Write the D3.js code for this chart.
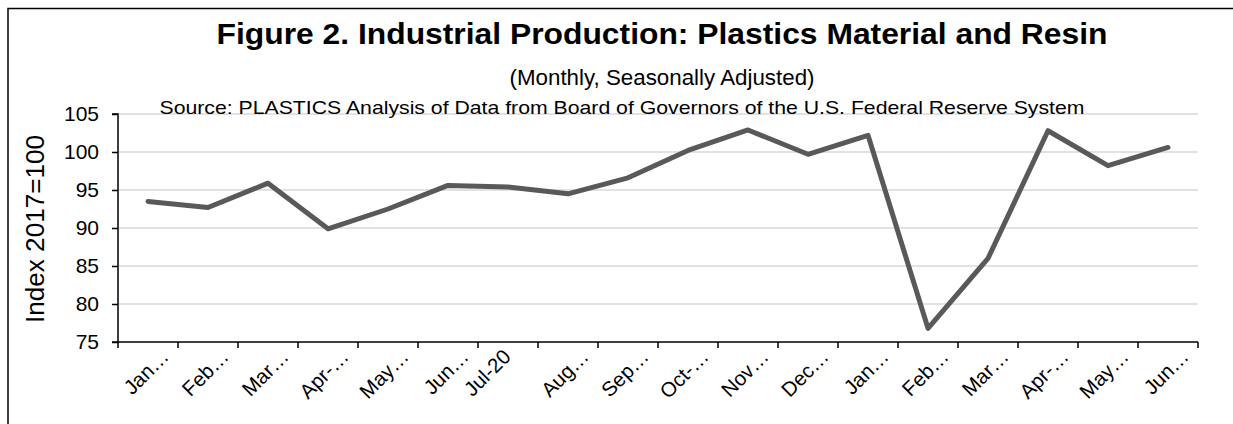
<!DOCTYPE html>
<html>
<head>
<meta charset="utf-8">
<script src="https://cdn.jsdelivr.net/npm/d3@7"></script>
<style>
  html, body { margin: 0; padding: 0; background: #fff; }
  svg { display: block; font-family: "Liberation Sans", Arial, sans-serif; }
</style>
</head>
<body>
<svg id="chart" width="1233" height="424"></svg>
<script>
const categories = ["Jan-20","Feb-20","Mar-20","Apr-20","May-20","Jun-20","Jul-20","Aug-20","Sep-20","Oct-20","Nov-20","Dec-20","Jan-21","Feb-21","Mar-21","Apr-21","May-21","Jun-21"];
const tickLabels = ["Jan…","Feb…","Mar…","Apr-…","May…","Jun…","Jul-20","Aug…","Sep…","Oct-…","Nov…","Dec…","Jan…","Feb…","Mar…","Apr-…","May…","Jun…"];
const values = [93.5, 92.7, 95.9, 89.9, 92.5, 95.6, 95.4, 94.5, 96.6, 100.2, 102.9, 99.7, 102.2, 76.8, 86.0, 102.8, 98.2, 100.6];
const yTicks = [75, 80, 85, 90, 95, 100, 105];

const svg = d3.select("#chart");
const W = 1233, H = 424;
const plot = { left: 118, right: 1198, top: 114, bottom: 342 };
const FONT = "Liberation Sans, Arial, sans-serif";

// frame
svg.append("path")
  .attr("d", `M8,${H + 5} L8,8.5 L${W + 5},8.5`)
  .attr("fill", "none").attr("stroke", "#000").attr("stroke-width", 1.5);

const x = d3.scaleBand().domain(categories).range([plot.left, plot.right]).padding(0);
const y = d3.scaleLinear().domain([75, 105]).range([plot.bottom, plot.top]);

// gridlines
svg.append("g").selectAll("line").data(yTicks.filter(d => d !== 75)).join("line")
  .attr("x1", plot.left).attr("x2", plot.right)
  .attr("y1", d => y(d)).attr("y2", d => y(d))
  .attr("stroke", "#d9d9d9").attr("stroke-width", 1.5);

// y axis
const yAxis = svg.append("g").attr("transform", `translate(${plot.left},0)`)
  .call(d3.axisLeft(y).tickValues(yTicks).tickSize(6).tickPadding(13).tickFormat(d3.format("d")));
yAxis.select(".domain").attr("stroke", "#000").attr("stroke-width", 1.5).attr("d", `M-6,${plot.top}H0V${plot.bottom}H-6`);
yAxis.selectAll(".tick line").attr("stroke", "#000").attr("stroke-width", 1.5);
yAxis.selectAll(".tick text").attr("fill", "#000").attr("font-size", 21).attr("font-family", FONT);

// x axis
const xTickPos = categories.map((c, i) => plot.left + i * x.bandwidth()).concat([plot.right]);
const xg = svg.append("g");
xg.append("line").attr("x1", plot.left).attr("x2", plot.right).attr("y1", plot.bottom).attr("y2", plot.bottom)
  .attr("stroke", "#000").attr("stroke-width", 1.5);
xg.selectAll("line.tk").data(xTickPos).join("line").attr("class", "tk")
  .attr("x1", d => d).attr("x2", d => d).attr("y1", plot.bottom).attr("y2", plot.bottom + 6)
  .attr("stroke", "#000").attr("stroke-width", 1.5);
xg.selectAll("text").data(categories).join("text")
  .attr("transform", (d, i) => {
    const off = tickLabels[i].endsWith("…") ? 22 : 4;
    return `translate(${x(d) + x.bandwidth() / 2 + off},${plot.bottom + 16}) rotate(-45)`;
  })
  .attr("text-anchor", "end")
  .attr("font-size", 20.5)
  .attr("fill", "#000")
  .text((d, i) => tickLabels[i]);

// line
const line = d3.line().x((d, i) => x(categories[i]) + x.bandwidth() / 2).y(d => y(d)).curve(d3.curveLinear);
svg.append("path").datum(values)
  .attr("d", line)
  .attr("fill", "none").attr("stroke", "#595959").attr("stroke-width", 5)
  .attr("stroke-linejoin", "round").attr("stroke-linecap", "round");

// titles
svg.append("text").attr("x", 662).attr("y", 44).attr("text-anchor", "middle")
  .attr("font-size", 29.5).attr("font-weight", "bold").attr("fill", "#000")
  .attr("textLength", 891).attr("lengthAdjust", "spacingAndGlyphs")
  .text("Figure 2. Industrial Production: Plastics Material and Resin");
svg.append("text").attr("x", 662).attr("y", 85).attr("text-anchor", "middle")
  .attr("font-size", 22.5).attr("fill", "#000")
  .attr("textLength", 305).attr("lengthAdjust", "spacingAndGlyphs")
  .text("(Monthly, Seasonally Adjusted)");
svg.append("text").attr("x", 622).attr("y", 114).attr("text-anchor", "middle")
  .attr("font-size", 18.5).attr("fill", "#000")
  .attr("textLength", 925).attr("lengthAdjust", "spacingAndGlyphs")
  .text("Source: PLASTICS Analysis of Data from Board of Governors of the U.S. Federal Reserve System");

// y label
svg.append("text").attr("transform", `translate(44,${(plot.top + plot.bottom) / 2 + 1}) rotate(-90)`)
  .attr("text-anchor", "middle").attr("font-size", 25).attr("fill", "#000")
  .attr("textLength", 188).attr("lengthAdjust", "spacingAndGlyphs")
  .text("Index 2017=100");
</script>
</body>
</html>
